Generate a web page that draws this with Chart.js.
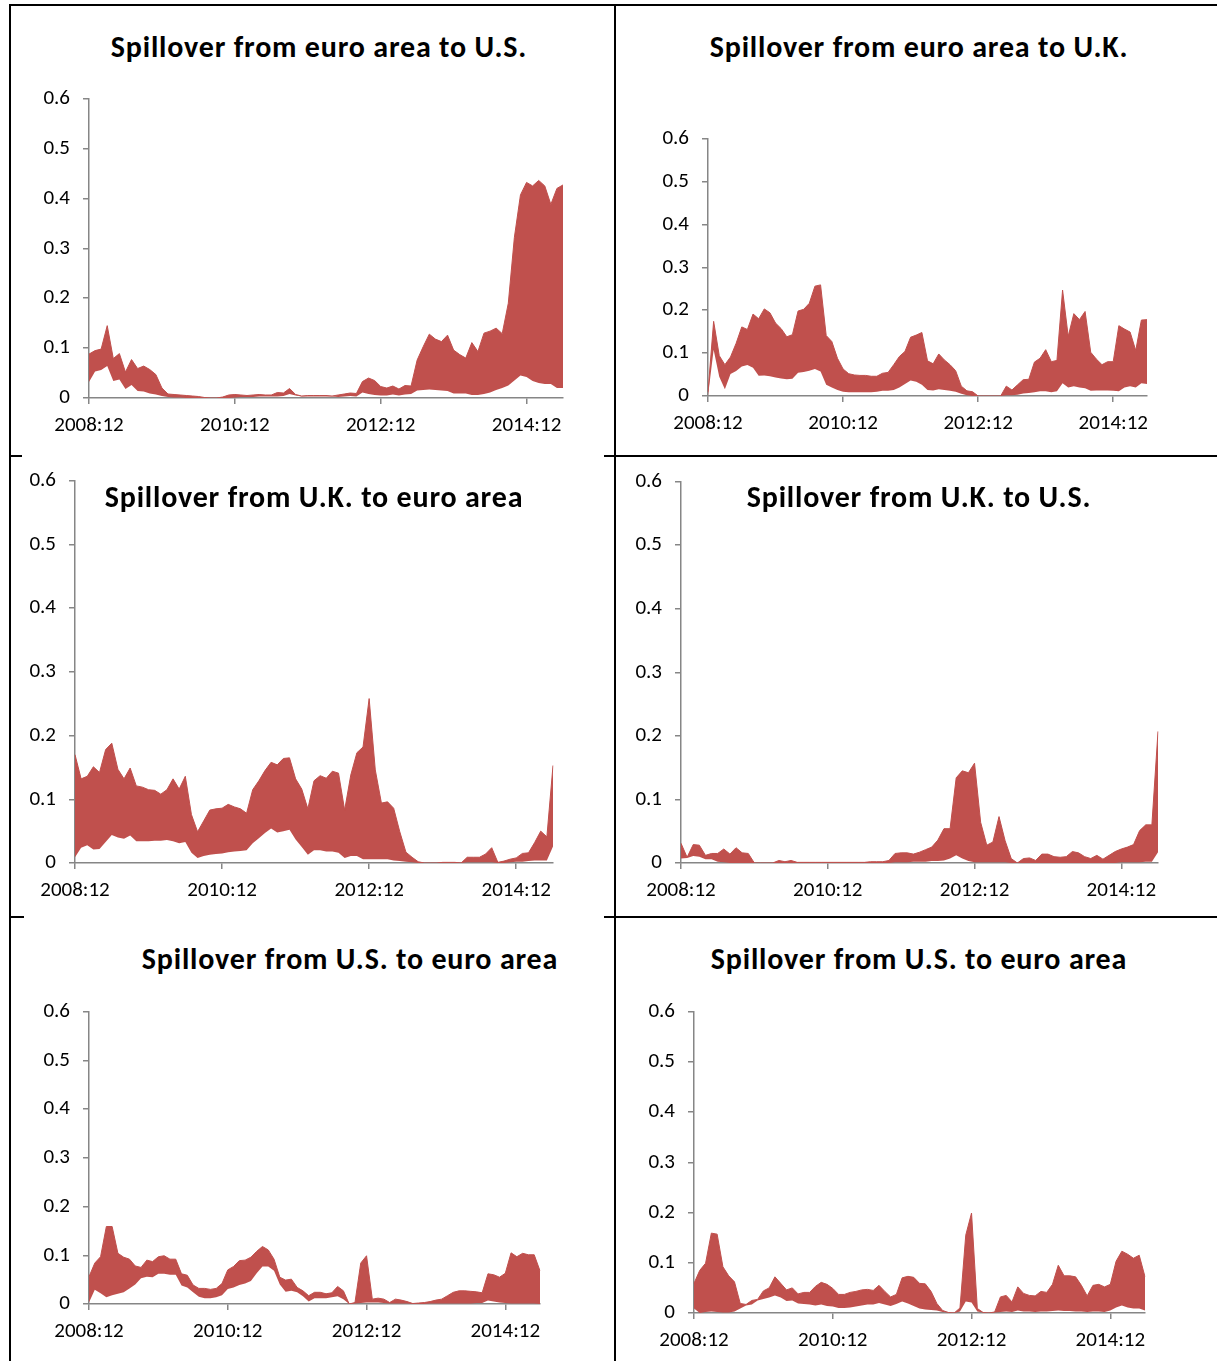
<!DOCTYPE html>
<html lang="en">
<head>
<meta charset="UTF-8">
<title>Spillover bands</title>
<script src="https://cdn.jsdelivr.net/npm/chart.js"></script>
<style>
  html, body { margin: 0; padding: 0; background: #fff; }
  #page { position: relative; width: 1217px; height: 1361px; overflow: hidden; font-family: Carlito, Calibri, Lato, sans-serif; }
  .rule { position: absolute; background: #000; }
  .title { position: absolute; transform: translate(-50%, -50%); font-weight: 700; font-size: 30px; letter-spacing: 0.8px; white-space: nowrap; color: #000; line-height: 1; }
  canvas { position: absolute; }
</style>
</head>
<body>
<div id="page">
  <!-- table lines behind the pasted charts -->
  <div class="rule" style="left:10px;top:4px;width:1207px;height:2px"></div>
  <div class="rule" style="left:9px;top:4px;width:2px;height:1357px"></div>
  <div class="rule" style="left:614px;top:4px;width:2px;height:1357px"></div>
  <div class="rule" style="left:10px;top:455px;width:12px;height:2px"></div>
  <div class="rule" style="left:604px;top:455px;width:613px;height:2px"></div>
  <div class="rule" style="left:10px;top:916px;width:14px;height:2px"></div>
  <div class="rule" style="left:604px;top:916px;width:613px;height:2px"></div>
</div>

<script>
// monthly, 2008:12 .. 2015:06
const startYear = 2008, startMonth = 12, nMonths = 79
const tickLabels = ['2008:12', '2010:12', '2012:12', '2014:12']
const yTicks = [0, 0.1, 0.2, 0.3, 0.4, 0.5, 0.6]

const months = []
for (let i = 0; i < nMonths; i++) {
    const m = (startMonth - 1 + i) % 12 + 1
    const y = startYear + Math.floor((startMonth - 1 + i) / 12)
    months.push(y + ':' + (m < 10 ? '0' + m : m))
}

// euro area -> U.S.
const euUsLo = [.032, .053, .056, .064, .034, .037, .018, .026, .014, .013,
    .009, .007, .004, .002, .001, .001, 0, 0, 0, 0,
    0, 0, 0, 0, .001, .002, .002, .002, .003, .003,
    .003, .003, .004, .008, .005, .003, .003, .003, .003, .003,
    .003, .002, .003, .004, .003, .011, .008, .006, .005, .005,
    .007, .005, .007, .008, .015, .016, .017, .016, .015, .014,
    .009, .009, .009, .006, .006, .008, .011, .016, .020, .025,
    .035, .045, .042, .034, .030, .028, .028, .020, .020]
const euUsHi = [.088, .095, .098, .145, .079, .089, .052, .077, .059, .064,
    .057, .047, .020, .008, .007, .006, .005, .004, .003, .001,
    0, 0, .002, .006, .007, .006, .005, .006, .007, .006,
    .006, .011, .010, .019, .007, .004, .005, .005, .005, .005,
    .004, .006, .008, .010, .009, .033, .040, .035, .023, .020,
    .024, .018, .025, .024, .076, .103, .128, .118, .113, .126,
    .096, .087, .080, .111, .093, .130, .134, .140, .129, .190,
    .322, .407, .432, .425, .436, .425, .388, .420, .427]

// euro area -> U.K.
const euUkLo = [0, .108, .045, .016, .051, .058, .069, .072, .066, .047,
    .048, .046, .043, .041, .039, .040, .054, .056, .059, .063,
    .057, .026, .020, .014, .010, .009, .009, .009, .009, .009,
    .010, .012, .012, .014, .020, .028, .036, .033, .026, .014,
    .013, .016, .014, .012, .010, .005, .002, 0, 0, 0,
    0, 0, 0, .002, .002, .003, .006, .007, .009, .011,
    .011, .009, .011, .030, .020, .023, .020, .018, .012, .013,
    .013, .013, .012, .011, .020, .023, .020, .030, .028]
const euUkHi = [.010, .174, .094, .073, .091, .123, .161, .155, .191, .180,
    .203, .194, .170, .157, .138, .143, .198, .202, .216, .256,
    .259, .141, .127, .088, .063, .052, .049, .048, .048, .046,
    .046, .053, .055, .073, .092, .104, .137, .142, .148, .082,
    .075, .098, .084, .073, .059, .023, .012, .010, 0, 0,
    0, 0, 0, .023, .014, .026, .038, .039, .079, .088,
    .108, .080, .083, .247, .139, .192, .178, .197, .102, .086,
    .073, .080, .080, .164, .156, .149, .106, .177, .178]

// U.K. -> euro area
const ukEuLo = [.009, .024, .028, .021, .022, .033, .044, .040, .038, .043,
    .034, .034, .034, .035, .035, .036, .034, .031, .033, .016,
    .008, .011, .013, .014, .015, .017, .018, .019, .020, .031,
    .039, .047, .054, .048, .050, .052, .037, .025, .013, .020,
    .020, .018, .018, .016, .008, .011, .011, .006, .006, .006,
    .006, .006, .004, .003, .002, .001, 0, 0, 0, 0,
    0, 0, 0, 0, .001, .001, .001, .001, .001, 0,
    0, .001, .002, .002, .003, .004, .004, .004, .026]
const ukEuHi = [.170, .132, .136, .151, .142, .178, .188, .147, .132, .149,
    .121, .119, .115, .114, .108, .115, .132, .116, .136, .076,
    .049, .066, .083, .085, .086, .092, .088, .085, .078, .115,
    .129, .145, .158, .154, .164, .165, .132, .116, .085, .129,
    .137, .133, .144, .141, .083, .138, .173, .182, .258, .146,
    .094, .096, .086, .049, .017, .009, .002, 0, 0, 0,
    .001, .001, .001, 0, .009, .009, .009, .014, .024, .001,
    .003, .006, .008, .015, .016, .032, .050, .041, .153]

// U.K. -> U.S.
const ukUsLo = [.007, .008, .011, .010, .006, .006, .002, .001, 0, 0,
    0, 0, 0, 0, 0, 0, 0, 0, 0, 0,
    0, 0, 0, 0, 0, 0, 0, 0, 0, 0,
    0, 0, 0, 0, 0, .001, .001, .001, .002, .002,
    .002, .003, .003, .004, .007, .012, .007, .003, .001, .001,
    .001, .001, .001, .001, 0, 0, 0, 0, 0, 0,
    0, 0, 0, 0, 0, 0, 0, 0, 0, 0,
    0, 0, .001, .001, .001, .001, .002, .002, .017]
const ukUsHi = [.031, .009, .029, .028, .012, .015, .015, .022, .014, .024,
    .016, .015, 0, 0, 0, 0, .004, .002, .004, .001,
    .001, .001, .001, .001, .001, .001, .001, .001, .001, .001,
    .001, .002, .002, .002, .004, .015, .016, .016, .014, .017,
    .021, .025, .036, .054, .054, .134, .145, .142, .157, .064,
    .028, .033, .073, .035, .007, 0, .007, .008, .004, .014,
    .014, .010, .009, .010, .018, .016, .010, .007, .012, .006,
    .012, .018, .022, .025, .029, .051, .060, .060, .207]

// U.S. -> euro area (left)
const usEuLo = [.003, .029, .022, .014, .018, .021, .024, .032, .040, .053,
    .056, .055, .062, .062, .060, .060, .038, .034, .024, .015,
    .012, .012, .014, .018, .031, .034, .039, .042, .047, .063,
    .077, .077, .068, .040, .025, .027, .024, .016, .005, .012,
    .012, .012, .014, .016, .010, 0, .001, .002, .003, .003,
    .003, .002, .001, .001, .001, .001, 0, 0, 0, .001,
    .001, .001, .001, .001, .001, .001, .001, .002, .002, .007,
    .005, .003, .002, .001, .001, .001, .001, .001, 0]
const usEuHi = [.056, .084, .097, .159, .159, .104, .096, .092, .078, .075,
    .090, .087, .097, .099, .092, .092, .062, .059, .039, .032,
    .032, .030, .032, .042, .070, .077, .089, .090, .096, .108,
    .118, .111, .092, .055, .049, .051, .034, .027, .017, .024,
    .024, .021, .023, .036, .027, 0, .003, .084, .099, .010,
    .012, .010, .003, .010, .008, .005, .001, .002, .003, .005,
    .008, .010, .017, .024, .027, .027, .026, .025, .023, .062,
    .060, .055, .063, .105, .097, .104, .101, .101, .068]

// U.S. -> euro area (right)
const usEu2Lo = [.009, 0, .002, .003, .002, .001, .001, .003, .009, .015,
    .017, .025, .028, .031, .035, .031, .024, .025, .019, .018,
    .017, .015, .017, .014, .013, .010, .010, .011, .013, .015,
    .017, .017, .020, .017, .014, .018, .023, .019, .014, .009,
    .007, .006, .005, .002, .001, 0, .003, .023, .021, .003,
    .001, 0, .001, .002, .003, .002, .005, .003, .003, .002,
    .003, .003, .004, .005, .004, .004, .003, .003, .002, .003,
    .003, .002, .005, .011, .015, .011, .009, .009, .005]
const usEu2Hi = [.059, .085, .099, .159, .157, .092, .074, .062, .019, .017,
    .025, .027, .044, .050, .072, .059, .046, .050, .038, .041,
    .041, .053, .061, .057, .049, .037, .037, .041, .043, .046,
    .047, .045, .055, .043, .032, .037, .070, .073, .071, .059,
    .058, .043, .019, .005, .001, 0, .010, .155, .199, .009,
    .001, 0, .002, .032, .035, .022, .052, .039, .035, .034,
    .043, .041, .057, .095, .074, .074, .072, .055, .034, .055,
    .057, .052, .057, .103, .123, .117, .109, .115, .072]

const bandColor = '#C0504D'
const axisGrey = '#868686'
const fontFamily = 'Carlito, Calibri, Lato, sans-serif'

// plot area of each panel in page pixels, and where its title sits
const panels = [
    { title: 'Spillover from euro area to U.S.', lo: euUsLo, hi: euUsHi, left: 89, right: 563, top: 98, bottom: 398, tx: 319, ty: 47 },
    { title: 'Spillover from euro area to U.K.', lo: euUkLo, hi: euUkHi, left: 708, right: 1147, top: 138, bottom: 396, tx: 919, ty: 47 },
    { title: 'Spillover from U.K. to euro area', lo: ukEuLo, hi: ukEuHi, left: 75, right: 553, top: 480, bottom: 863, tx: 314, ty: 497 },
    { title: 'Spillover from U.K. to U.S.', lo: ukUsLo, hi: ukUsHi, left: 681, right: 1158, top: 481, bottom: 863, tx: 919, ty: 497 },
    { title: 'Spillover from U.S. to euro area', lo: usEuLo, hi: usEuHi, left: 89, right: 540, top: 1011, bottom: 1304, tx: 350, ty: 959 },
    { title: 'Spillover from U.S. to euro area', lo: usEu2Lo, hi: usEu2Hi, left: 694, right: 1145, top: 1011, bottom: 1313, tx: 919, ty: 959 }
]

const page = document.getElementById('page')
// chart.js keeps about one label line (21px * 1.2) free above the top tick
const yW = 62, xH = 44, topRoom = 25, padRight = 16

function makeChart(p) {
    let cv = document.createElement('canvas')
    cv.width = p.right - p.left + yW + padRight
    cv.height = p.bottom - p.top + topRoom + xH
    cv.style.left = (p.left - yW) + 'px'
    cv.style.top = (p.top - topRoom) + 'px'
    page.appendChild(cv)

    new Chart(cv.getContext('2d'), {
        type: 'line',
        data: {
            labels: months,
            datasets: [{
                data: p.lo,
                fill: false,
                borderColor: 'transparent',
                borderWidth: 1
            }, {
                data: p.hi,
                fill: '-1',
                backgroundColor: bandColor,
                borderColor: bandColor,
                borderWidth: 1
            }]
        },
        options: {
            responsive: false,
            animation: false,
            devicePixelRatio: 1,
            layout: { autoPadding: false, padding: { left: 0, top: 0, right: padRight, bottom: 0 } },
            plugins: { legend: { display: false }, tooltip: { enabled: false } },
            elements: { point: { radius: 0 }, line: { tension: 0 } },
            scales: {
                x: {
                    offset: false,
                    grid: { drawOnChartArea: false, tickLength: 6, color: axisGrey, lineWidth: 1.5 },
                    border: { color: axisGrey, width: 1.5 },
                    ticks: {
                        autoSkip: false, maxRotation: 0, padding: 9, color: '#000',
                        font: { family: fontFamily, size: 21 },
                        callback: (v, i) => tickLabels.includes(months[i]) ? months[i] : null
                    },
                    afterFit: s => { s.height = xH }
                },
                y: {
                    min: 0, max: 0.6,
                    grid: { drawOnChartArea: false, tickLength: 6, color: axisGrey, lineWidth: 1.5 },
                    border: { color: axisGrey, width: 1.5 },
                    afterBuildTicks: s => { s.ticks = yTicks.map(v => ({ value: v })) },
                    ticks: {
                        padding: 13, color: '#000',
                        font: { family: fontFamily, size: 21 },
                        callback: v => String(+v.toFixed(1))
                    },
                    afterFit: s => { s.width = yW }
                }
            }
        }
    })

    let t = document.createElement('div')
    t.className = 'title'
    t.textContent = p.title
    t.style.left = p.tx + 'px'
    t.style.top = p.ty + 'px'
    page.appendChild(t)
}

panels.forEach(makeChart)
</script>
</body>
</html>
